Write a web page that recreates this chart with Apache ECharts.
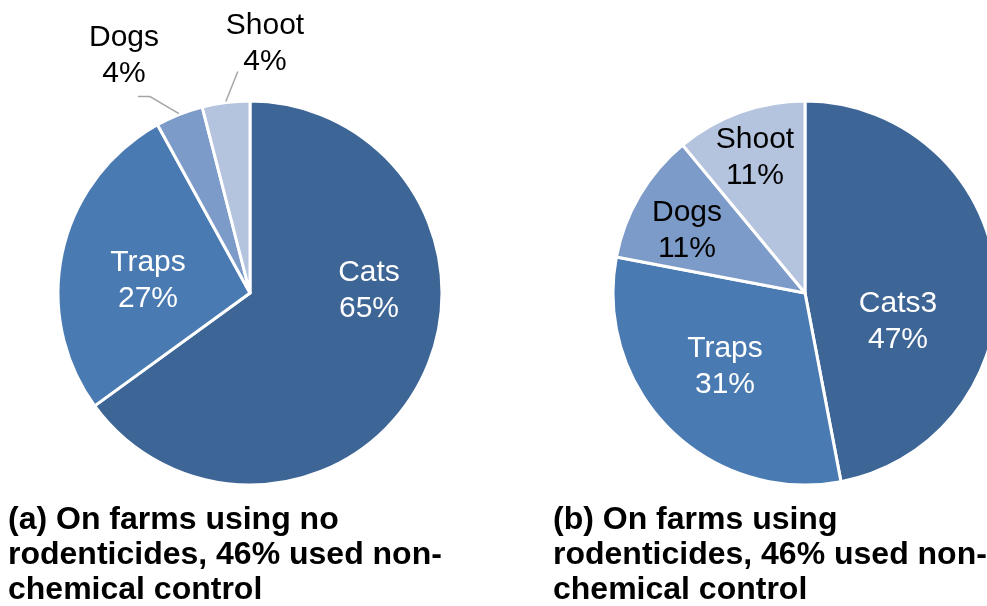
<!DOCTYPE html>
<html>
<head>
<meta charset="utf-8">
<script src="https://cdn.jsdelivr.net/npm/echarts@6/dist/echarts.min.js"></script>
<style>
html,body{margin:0;padding:0;background:#fff;}
#c{width:987px;height:606px;}
</style>
</head>
<body>
<div id="c"></div>
<script>
const categoriesA = ['Cats', 'Traps', 'Dogs', 'Shoot'];
const valuesA = [65, 27, 4, 4];
const categoriesB = ['Cats3', 'Traps', 'Dogs', 'Shoot'];
const valuesB = [47, 31, 11, 11];
const colors = ['#3D6595', '#4A7AB2', '#7D9BC8', '#B4C3DE'];
const titleA = '(a) On farms using no\nrodenticides, 46% used non-\nchemical control';
const titleB = '(b) On farms using\nrodenticides, 46% used non-\nchemical control';

const FONT = '"Liberation Sans", Arial, sans-serif';

const centerA = [250, 293], centerB = [805, 293], R = 192;
// label placement (layout only)
const labelPosA = [[369, 291], [148, 281], [124, 56], [265, 44]];
const labelPosB = [[898, 322], [725, 367], [687, 231], [755, 158]];
// leader line bends, relative to the slice edge point
const leaderBends = { 2: [[-29, -17], [-41, -17]], 3: [[12, -30]] };

function makeData(cats, vals, darkText) {
  return cats.map((c, i) => ({
    name: c,
    value: vals[i],
    itemStyle: { color: colors[i] },
    label: { color: darkText[i] ? '#000' : '#fff' }
  }));
}

// leader lines from slice mid-angle on the rim
function leaderLines(vals, center) {
  const total = vals.reduce((a, b) => a + b, 0);
  const out = [];
  let acc = 0;
  vals.forEach((v, i) => {
    const mid = (acc + v / 2) / total * 2 * Math.PI;
    acc += v;
    if (!leaderBends[i]) return;
    const sx = center[0] + Math.sin(mid) * (R + 1);
    const sy = center[1] - Math.cos(mid) * (R + 1);
    const pts = [[sx, sy]].concat(leaderBends[i].map(d => [sx + d[0], sy + d[1]]));
    out.push({
      type: 'polyline',
      shape: { points: pts },
      style: { stroke: '#A6A6A6', lineWidth: 1.5, fill: null },
      z: 10
    });
  });
  return out;
}

const labelBase = {
  show: true,
  position: 'inside',
  formatter: '{b}\n{c}%',
  fontFamily: FONT,
  fontSize: 30,
  lineHeight: 36
};

const chart = echarts.init(document.getElementById('c'));
chart.setOption({
  backgroundColor: '#fff',
  animation: false,
  title: [
    { text: titleA, left: 8, top: 503, padding: 0,
      textStyle: { fontFamily: FONT, fontWeight: 'bold', fontSize: 32, lineHeight: 35, color: '#000' } },
    { text: titleB, left: 553, top: 503, padding: 0,
      textStyle: { fontFamily: FONT, fontWeight: 'bold', fontSize: 32, lineHeight: 35, color: '#000' } }
  ],
  graphic: leaderLines(valuesA, centerA),
  series: [
    {
      type: 'pie',
      center: centerA,
      radius: R,
      startAngle: 90,
      clockwise: true,
      avoidLabelOverlap: false,
      itemStyle: { borderColor: '#fff', borderWidth: 3 },
      label: labelBase,
      labelLine: { show: false },
      labelLayout: function (p) {
        const pos = labelPosA[p.dataIndex];
        return { x: pos[0], y: pos[1], align: 'center', verticalAlign: 'middle' };
      },
      data: makeData(categoriesA, valuesA, [false, false, true, true])
    },
    {
      type: 'pie',
      center: centerB,
      radius: R,
      startAngle: 90,
      clockwise: true,
      avoidLabelOverlap: false,
      itemStyle: { borderColor: '#fff', borderWidth: 3 },
      label: labelBase,
      labelLine: { show: false },
      labelLayout: function (p) {
        const pos = labelPosB[p.dataIndex];
        return { x: pos[0], y: pos[1], align: 'center', verticalAlign: 'middle' };
      },
      data: makeData(categoriesB, valuesB, [false, false, true, true])
    }
  ]
});
</script>
</body>
</html>
